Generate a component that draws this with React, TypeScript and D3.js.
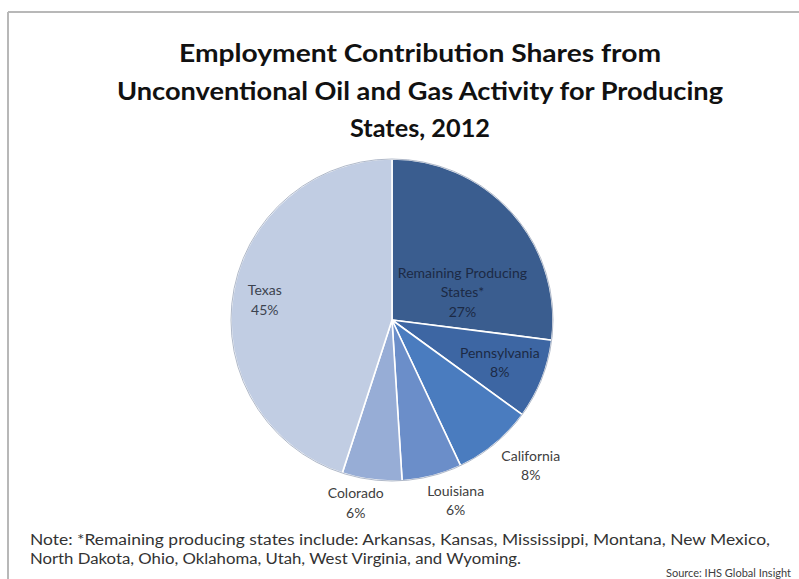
import { useEffect } from "react";
import * as d3 from "d3";

// Chart data
const categories = [
  "Remaining Producing States*",
  "Pennsylvania",
  "California",
  "Louisiana",
  "Colorado",
  "Texas",
];
const labelLines = [
  ["Remaining Producing", "States*"],
  ["Pennsylvania"],
  ["California"],
  ["Louisiana"],
  ["Colorado"],
  ["Texas"],
];
const shares = [27, 8, 8, 6, 6, 45];
const sliceColors = ["#3a5d8f", "#3d66a3", "#4a7cbf", "#6b8ec9", "#97add6", "#c1cde3"];

const titleLines = [
  "Employment Contribution Shares from",
  "Unconventional Oil and Gas Activity for Producing",
  "States, 2012",
];
const noteLines = [
  "Note: *Remaining producing states include: Arkansas, Kansas, Mississippi, Montana, New Mexico,",
  "North Dakota, Ohio, Oklahoma, Utah, West Virginia, and Wyoming.",
];
const sourceText = "Source: IHS Global Insight";

// label placement: radius factor and angular nudge (degrees) per slice
const labelRadius = [0.47, 0.72, 1.25, 1.19, 1.16, 0.8];
const labelNudge = [20, 0, -4, -5, 4, 0];
const labelInside = [true, true, false, false, false, true];

const W = 799;
const H = 579;

export default function App() {
  useEffect(() => {
    document.body.style.margin = "0";
  }, []);

  const cx = 392;
  const cy = 320;
  const radius = 161;

  const pie = d3
    .pie<number>()
    .sort(null)
    .value((d) => d);
  const arcs = pie(shares);
  const arc = d3.arc<d3.PieArcDatum<number>>().innerRadius(0).outerRadius(radius);

  const titleWidths = [482, 606, 140];
  const noteWidths = [740, 491];

  return (
    <svg width={W} height={H} style={{ display: "block" }}>
      <rect x={0} y={0} width={W} height={H} fill="#ffffff" />
      {/* frame */}
      <line x1={8} y1={12} x2={W} y2={12} stroke="#b8b8b8" strokeWidth={2} />
      <line x1={8} y1={12} x2={8} y2={H} stroke="#b8b8b8" strokeWidth={2} />

      {/* title */}
      {titleLines.map((t, i) => (
        <text
          key={t}
          x={420}
          y={62 + i * 37.5}
          textAnchor="middle"
          fontFamily="Lato, 'Open Sans', sans-serif"
          fontWeight={700}
          fontSize={25}
          fill="#111111"
          textLength={titleWidths[i]}
          lengthAdjust="spacingAndGlyphs"
        >
          {t}
        </text>
      ))}

      {/* pie */}
      <g transform={`translate(${cx},${cy})`}>
        {arcs.map((a, i) => (
          <path
            key={categories[i]}
            d={arc(a) || ""}
            fill={sliceColors[i]}
            stroke="#ffffff"
            strokeWidth={1.6}
          />
        ))}
        <circle r={radius} fill="none" stroke="#8e9bb2" strokeWidth={1} opacity={0.7} />
        {arcs.map((a, i) => {
          const mid = (a.startAngle + a.endAngle) / 2 + (labelNudge[i] * Math.PI) / 180;
          const r = radius * labelRadius[i];
          const x = Math.sin(mid) * r;
          const y = -Math.cos(mid) * r;
          const lines = [...labelLines[i], `${shares[i]}%`];
          const lh = 19.5;
          const top = y - ((lines.length - 1) * lh) / 2;
          return (
            <text
              key={`lbl-${categories[i]}`}
              textAnchor="middle"
              fontFamily="Lato, 'Open Sans', sans-serif"
              fontSize={14}
              fill={labelInside[i] ? (i === 5 ? "#3c4350" : "#1c2a45") : "#404040"}
            >
              {lines.map((l, j) => (
                <tspan key={l + j} x={x} y={top + j * lh} dy="0.35em">
                  {l}
                </tspan>
              ))}
            </text>
          );
        })}
      </g>

      {/* note */}
      {noteLines.map((t, i) => (
        <text
          key={t}
          x={30}
          y={545 + i * 19}
          fontFamily="Lato, 'Open Sans', sans-serif"
          fontSize={15.5}
          fill="#333333"
          textLength={noteWidths[i]}
          lengthAdjust="spacingAndGlyphs"
        >
          {t}
        </text>
      ))}
      <text
        x={791}
        y={577}
        textAnchor="end"
        fontFamily="Lato, 'Open Sans', sans-serif"
        fontSize={11}
        fill="#404040"
      >
        {sourceText}
      </text>
    </svg>
  );
}
